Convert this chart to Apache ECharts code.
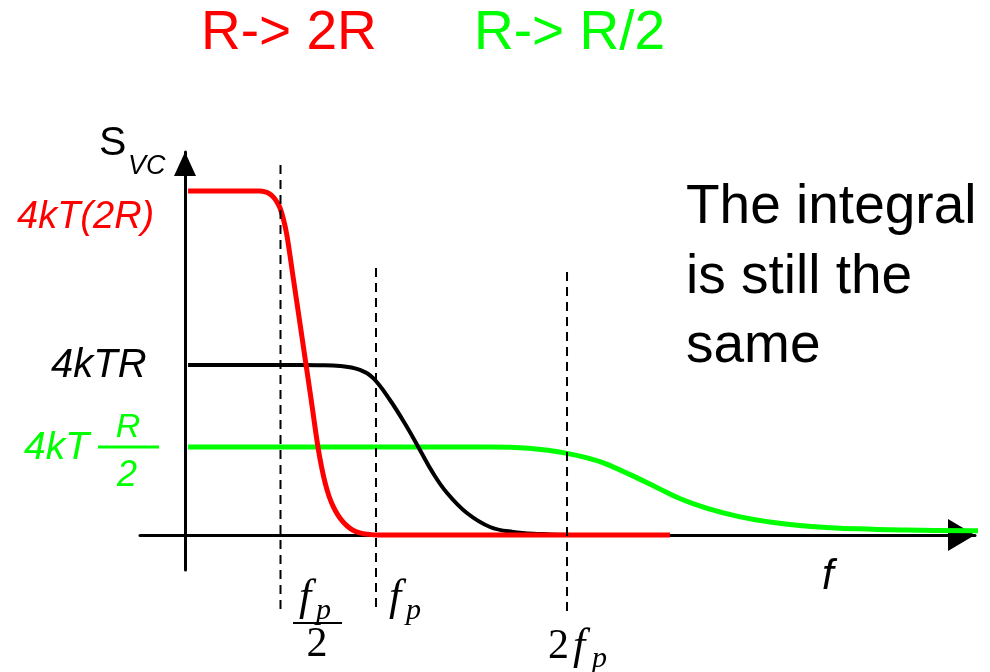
<!DOCTYPE html>
<html>
<head>
<meta charset="utf-8">
<script src="https://cdn.jsdelivr.net/npm/echarts@6/dist/echarts.min.js"></script>
<style>
  html, body { margin: 0; padding: 0; background: #fff; }
  #chart { width: 990px; height: 672px; }
</style>
</head>
<body>
<div id="chart"></div>
<script>
// Noise spectral density of an RC circuit for three resistor values.
// Frequency is in units of f_p, density in units of 4kTR.

// R -> 2R : twice the level, half the bandwidth
const redCurve = [
  [0.016, 2.024], [0.2, 2.024], [0.39, 2.024], [0.42, 2.018], [0.445, 2.005],
  [0.465, 1.985], [0.482, 1.958], [0.497, 1.925], [0.515, 1.86], [0.534, 1.76],
  [0.565, 1.525], [0.60, 1.26], [0.628, 1.045], [0.66, 0.80], [0.696, 0.518],
  [0.715, 0.40], [0.735, 0.30], [0.755, 0.225], [0.777, 0.165], [0.80, 0.118],
  [0.825, 0.080], [0.852, 0.050], [0.88, 0.028], [0.916, 0.012], [0.96, 0.004],
  [1.01, 0.0], [1.3, 0.0], [1.8, 0.0], [2.539, 0.0]
];

// R : reference level 4kTR
const blackCurve = [
  [0.016, 1.0], [0.3, 1.0], [0.6, 1.0], [0.7, 0.999], [0.812, 0.994],
  [0.916, 0.971], [0.984, 0.924], [1.073, 0.794], [1.162, 0.635], [1.230, 0.5],
  [1.298, 0.365], [1.372, 0.247], [1.476, 0.129], [1.597, 0.047], [1.717, 0.018],
  [1.859, 0.006], [2.016, 0.0], [2.3, 0.0], [2.539, 0.0]
];

// R -> R/2 : half the level, twice the bandwidth
const greenCurve = [
  [0.016, 0.518], [0.5, 0.518], [1.0, 0.518], [1.4, 0.518], [1.6, 0.518],
  [1.70, 0.516], [1.80, 0.510], [1.90, 0.498], [2.00, 0.480], [2.10, 0.455],
  [2.20, 0.420], [2.33, 0.355], [2.47, 0.280], [2.59, 0.215], [2.73, 0.158],
  [2.90, 0.108], [3.08, 0.073], [3.26, 0.052], [3.52, 0.036], [3.78, 0.029],
  [4.215, 0.024]
];

// Dashed markers at f_p/2, f_p and 2f_p (top and bottom of each dash line)
const markFreqs = [0.5, 1, 2];
const markTops = [2.176, 1.571, 1.547];
const markBottoms = [-0.47, -0.429, -0.459];

// Axis extents
const freqRange = [-0.2356, 4.136];
const densityRange = [-0.206, 2.253];

const RED = '#ff0000';
const GREEN = '#00ff00';
const BLACK = '#000000';
const SANS = '"Liberation Sans", Arial, sans-serif';
const SERIF = '"Liberation Serif", "Times New Roman", serif';

const chart = echarts.init(document.getElementById('chart'), null, { renderer: 'canvas' });

function curve(name, data, color, width, z) {
  return {
    name, type: 'line', data, symbol: 'none', showSymbol: false,
    smooth: 0.4, clip: false, silent: true, z,
    lineStyle: { color, width, cap: 'butt', join: 'round' }
  };
}

const markSeries = markFreqs.map((f, i) => ({
  type: 'line', symbol: 'none', clip: false, silent: true, z: 6,
  data: [[f, markTops[i]], [f, markBottoms[i]]],
  lineStyle: { color: BLACK, width: 2, type: [9, 6] }
}));

function txt(text, x, y, font, fill, align) {
  return {
    type: 'text', x, y, silent: true,
    style: { text, font, fill, align: align || 'left', verticalAlign: 'middle' }
  };
}
function bar(x1, x2, y, color, w) {
  return {
    type: 'line', silent: true,
    shape: { x1, y1: y, x2, y2: y },
    style: { stroke: color, lineWidth: w }
  };
}

const option = {
  animation: false,
  backgroundColor: '#ffffff',
  grid: { left: 140, right: 15, top: 152, bottom: 102, containLabel: false },
  xAxis: {
    type: 'value', min: freqRange[0], max: freqRange[1],
    axisLine: {
      show: true, onZero: true,
      symbol: ['none', 'triangle'], symbolSize: [32, 27], symbolOffset: [0, -13.5],
      lineStyle: { color: BLACK, width: 3 }
    },
    axisTick: { show: false }, axisLabel: { show: false }, splitLine: { show: false }
  },
  yAxis: {
    type: 'value', min: densityRange[0], max: densityRange[1],
    axisLine: {
      show: true, onZero: true,
      symbol: ['none', 'triangle'], symbolSize: [22, 24], symbolOffset: [0, -12],
      lineStyle: { color: BLACK, width: 3 }
    },
    axisTick: { show: false }, axisLabel: { show: false }, splitLine: { show: false }
  },
  series: [
    curve('R/2', greenCurve, GREEN, 5, 3),
    curve('R', blackCurve, BLACK, 4, 4),
    curve('2R', redCurve, RED, 5, 5)
  ].concat(markSeries),
  graphic: [
    // headings
    txt('R-> 2R', 201, 34, '55px ' + SANS, RED),
    txt('R-> R/2', 474, 34, '55px ' + SANS, GREEN),
    // note on the right
    txt('The integral', 686, 208, '55px ' + SANS, BLACK),
    txt('is still the', 686, 278, '55px ' + SANS, BLACK),
    txt('same', 686, 347, '55px ' + SANS, BLACK),
    // axis names
    txt('S', 99, 144, '41px ' + SANS, BLACK),
    txt('VC', 128, 166, 'italic 27px ' + SANS, BLACK),
    txt('f', 822, 577, 'italic 42px ' + SANS, BLACK),
    // level labels
    txt('4kT(2R)', 17, 217, 'italic 38px ' + SANS, RED),
    txt('4kTR', 51, 366, 'italic 40px ' + SANS, BLACK),
    txt('4kT', 24, 448, 'italic 39px ' + SANS, GREEN),
    bar(98, 159, 447, GREEN, 3),
    txt('R', 128, 428, 'italic 34px ' + SANS, GREEN, 'center'),
    txt('2', 127, 476, 'italic 36px ' + SANS, GREEN, 'center'),
    // frequency marks
    txt('f', 299, 598, 'italic 44px ' + SERIF, BLACK),
    txt('p', 316, 611, 'italic 30px ' + SERIF, BLACK),
    bar(293, 342, 623, BLACK, 2),
    txt('2', 317, 645, '42px ' + SERIF, BLACK, 'center'),
    txt('f', 389, 598, 'italic 44px ' + SERIF, BLACK),
    txt('p', 406, 611, 'italic 30px ' + SERIF, BLACK),
    txt('2', 548, 647, '42px ' + SERIF, BLACK),
    txt('f', 573, 647, 'italic 44px ' + SERIF, BLACK),
    txt('p', 592, 659, 'italic 30px ' + SERIF, BLACK)
  ]
};

chart.setOption(option);
</script>
</body>
</html>
